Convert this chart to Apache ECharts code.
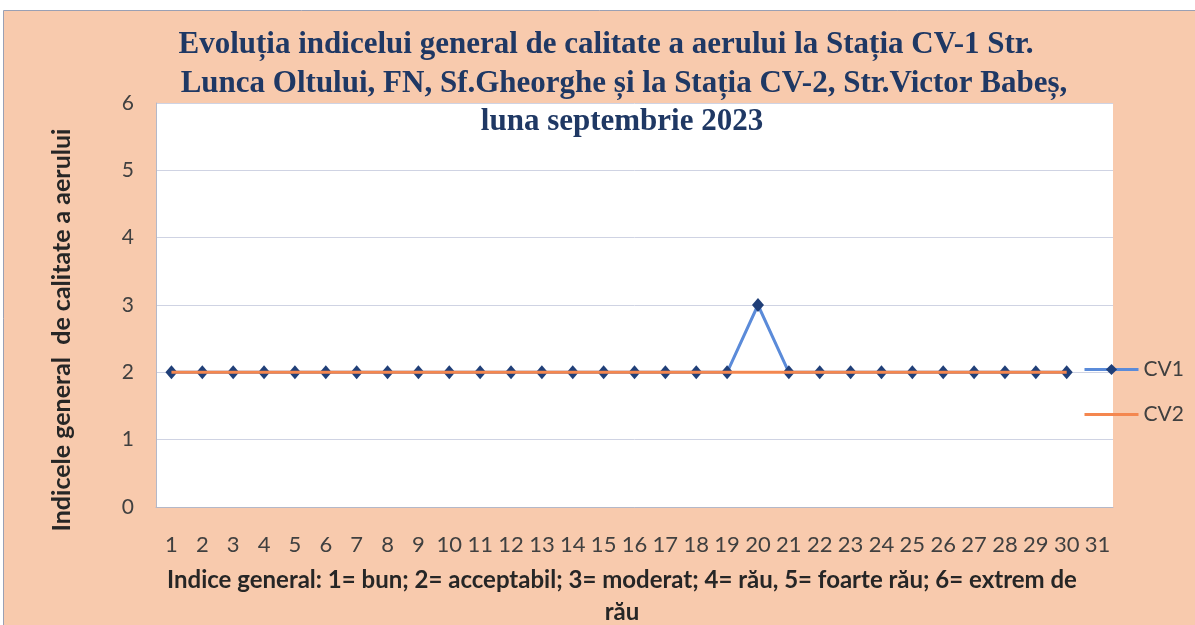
<!DOCTYPE html>
<html>
<head>
<meta charset="utf-8">
<script src="https://cdn.jsdelivr.net/npm/echarts@6/dist/echarts.min.js"></script>
<style>
html,body{margin:0;padding:0;background:#ffffff;}
#chart{width:1195px;height:625px;}
</style>
</head>
<body>
<div id="chart"></div>
<script>
const days = ['1','2','3','4','5','6','7','8','9','10','11','12','13','14','15','16','17','18','19','20','21','22','23','24','25','26','27','28','29','30','31'];
const cv1 = [2,2,2,2,2,2,2,2,2,2,2,2,2,2,2,2,2,2,2,3,2,2,2,2,2,2,2,2,2,2,null];
const cv2 = [2,2,2,2,2,2,2,2,2,2,2,2,2,2,2,2,2,2,2,2,2,2,2,2,2,2,2,2,2,2,null];
const yTicks = [0,1,2,3,4,5,6];
const titleLines = [
  'Evoluția indicelui general de calitate a aerului la Stația CV-1 Str.',
  'Lunca Oltului, FN, Sf.Gheorghe și la Stația CV-2, Str.Victor Babeș,',
  'luna septembrie 2023'
];
const yName = 'Indicele general  de calitate a aerului';
const footerLines = [
  'Indice general: 1= bun; 2= acceptabil; 3= moderat; 4= rău, 5= foarte rău; 6= extrem de',
  'rău'
];

const chart = echarts.init(document.getElementById('chart'));
const titleFont = 'bold 31px "Liberation Serif", "DejaVu Serif", serif';
const sansFont = 'Lato, "Noto Sans", sans-serif';
const graphics = [
  {type:'rect', z:-10, shape:{x:3.5,y:10.5,width:1200,height:620},
   style:{fill:'#F8CAAD', stroke:'#9aa0b4', lineWidth:1}}
];
const titleY = [45, 84, 122];
const titleX = [606, 624, 622];
titleLines.forEach((t,i)=>{
  graphics.push({type:'text', z:10, style:{text:t, x:titleX[i], y:titleY[i], textAlign:'center', textVerticalAlign:'middle',
    font:titleFont, fill:'#1F3864'}});
});
graphics.push({type:'text', z:10, rotation:Math.PI/2, x:62, y:330,
  style:{text:yName, x:0, y:0, textAlign:'center', textVerticalAlign:'middle',
  font:'bold 25px ' + sansFont, fill:'#262626'}});
const footY = [580, 612];
footerLines.forEach((t,i)=>{
  graphics.push({type:'text', z:10, style:{text:t, x:622, y:footY[i], textAlign:'center', textVerticalAlign:'middle',
    font:'bold 24px ' + sansFont, fill:'#262626'}});
});

chart.setOption({
  animation:false,
  backgroundColor:'#ffffff',
  graphic: graphics,
  grid:{left:156, right:82, top:103, bottom:118, show:true, backgroundColor:'#ffffff', borderWidth:0},
  legend:{
    orient:'vertical', left:1078, top:354, itemWidth:54, itemHeight:14, itemGap:24,
    lineStyle:{width:3},
    data:[{name:'CV1'}, {name:'CV2', itemStyle:{opacity:0}}],
    textStyle:{fontFamily:sansFont, fontSize:21, color:'#404040', padding:[0,0,0,0]}
  },
  xAxis:{
    type:'category', data:days, boundaryGap:true,
    axisLine:{show:true, lineStyle:{color:'#b4b8c8', width:1}},
    axisTick:{show:false},
    axisLabel:{interval:0, margin:27, fontFamily:sansFont, fontSize:22, color:'#404040'}
  },
  yAxis:{
    type:'value', min:0, max:6, interval:1,
    axisLine:{show:true, lineStyle:{color:'#b4b8c8', width:1}},
    axisTick:{show:false},
    splitLine:{show:true, lineStyle:{color:'#cfd3e3', width:1}},
    axisLabel:{margin:22, fontFamily:sansFont, fontSize:21, color:'#404040',
      formatter:(v)=> yTicks.includes(v) ? String(v) : ''}
  },
  series:[
    {name:'CV1', type:'line', data:cv1, symbol:'diamond', symbolSize:[12,14], showSymbol:true,
     lineStyle:{color:'#5B8BD9', width:3}, itemStyle:{color:'#203F78'}, z:2},
    {name:'CV2', type:'line', data:cv2, symbol:'none', showSymbol:false,
     lineStyle:{color:'#F4874F', width:3}, itemStyle:{color:'#F4874F'}, z:3}
  ]
});
</script>
</body>
</html>
